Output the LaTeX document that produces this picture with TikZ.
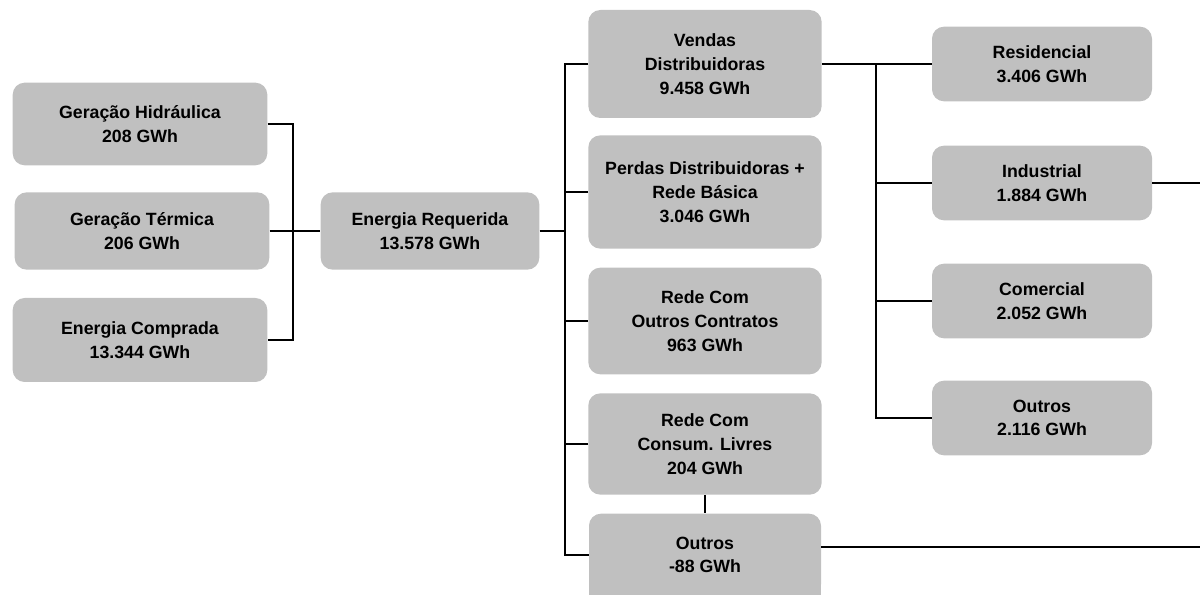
\documentclass[tikz,border=0pt]{standalone}
\usepackage{fontspec}
\setmainfont{Liberation Sans}
\usepackage{tikz}
\usetikzlibrary{backgrounds}
\definecolor{boxgray}{HTML}{C0C0C0}

\begin{document}
\begin{tikzpicture}
[
x=0.75pt, y=-0.75pt,
box/.style={rectangle, rounded corners=9pt, fill=boxgray, align=center, inner sep=0pt, font=\bfseries\fontsize{13.3}{17.8}\selectfont},
line/.style={draw=black, line width=1.4pt},
trunk/.style={draw=black, line width=2.2pt}
]
\useasboundingbox (0,0) rectangle (1200,595);

%Nodes
\node[box, minimum width=191pt, minimum height=62pt] (hidr) at (140,124) {Geração Hidráulica\\208 GWh};
\node[box, minimum width=191pt, minimum height=58pt] (term) at (142,231) {Geração Térmica\\206 GWh};
\node[box, minimum width=191pt, minimum height=63pt] (comp) at (140,340) {Energia Comprada\\13.344 GWh};
\node[box, minimum width=164pt, minimum height=58pt] (req)  at (430,231) {Energia Requerida\\13.578 GWh};

\node[box, minimum width=175pt, minimum height=81pt] (vend) at (705,64)  {Vendas\\Distribuidoras\\9.458 GWh};
\node[box, minimum width=175pt, minimum height=85pt] (perd) at (705,192) {Perdas Distribuidoras +\\Rede Básica\\3.046 GWh};
\node[box, minimum width=175pt, minimum height=80pt] (outc) at (705,321) {Rede Com\\Outros Contratos\\963 GWh};
\node[box, minimum width=175pt, minimum height=76pt] (livr) at (705,444) {Rede Com\\Consum. Livres\\204 GWh};
\node[box, minimum width=174pt, minimum height=62pt] (outr) at (705,555) {Outros\\-88 GWh};

\node[box, minimum width=165pt, minimum height=56pt] (resi) at (1042,64)  {Residencial\\3.406 GWh};
\node[box, minimum width=165pt, minimum height=56pt] (indu) at (1042,183) {Industrial\\1.884 GWh};
\node[box, minimum width=165pt, minimum height=56pt] (come) at (1042,301) {Comercial\\2.052 GWh};
\node[box, minimum width=165pt, minimum height=56pt] (outd) at (1042,418) {Outros\\2.116 GWh};

% last box runs off the page
\begin{scope}[on background layer]
\fill[boxgray] (outr.west) rectangle ([yshift=-20pt]outr.south east);
\end{scope}

\coordinate (j1) at (293,231);
\coordinate (j2) at (565,231);
\coordinate (j3) at (876,64);
\coordinate (endind) at (1200,183);
\coordinate (endout) at (1200,547);

%Lines
\path[line] (hidr.east) -| (j1) |- (comp.east);
\path[line] (term.east) -- (j1);
\path[trunk] (j1) -- (req.west);
\path[trunk] (req.east) -- (j2);
\path[line] (vend.west) -| (j2) |- (outr.west);
\path[line] (perd.west) -- (perd.west -| j2);
\path[line] (outc.west) -- (outc.west -| j2);
\path[line] (livr.west) -- (livr.west -| j2);
\path[line] (livr) -- (outr);
\path[trunk] (vend.east) -- (j3) -- (j3 |- come.west);
\path[line] (j3) -- (resi.west);
\path[line] (j3) |- (outd.west);
\path[line] (indu.west) -- (indu.west -| j3);
\path[line] (come.west) -- (come.west -| j3);
\path[line] (indu.east) -- (endind);
\path[line] (outr.east |- endout) -- (endout);
\end{tikzpicture}
\end{document}
